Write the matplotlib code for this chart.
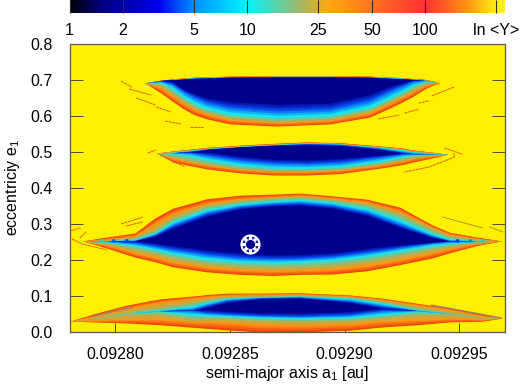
import numpy as np
import matplotlib
matplotlib.use("Agg")
import matplotlib.pyplot as plt
from matplotlib.colors import LinearSegmentedColormap, LogNorm, to_rgb
from matplotlib.path import Path

plt.rcParams['font.family'] = ['Liberation Sans', 'DejaVu Sans']
plt.rcParams['mathtext.default'] = 'regular'

# ---------- data ----------
xticks = [0.09280, 0.09285, 0.09290, 0.09295]
xticklabels = ['0.09280', '0.09285', '0.09290', '0.09295']
yticks = [0.0, 0.1, 0.2, 0.3, 0.4, 0.5, 0.6, 0.7, 0.8]
cbar_ticks = [1, 2, 5, 10, 25, 50, 100, 250]
cbar_labels = ['1', '2', '5', '10', '25', '50', '100', 'ln <Y>']
cbar_stop_values = [1, 1.48, 3.2, 5, 10, 19.7, 29, 52, 100, 178, 250, 280]
cbar_stop_colors = ['#000000', '#00007a', '#0000f0', '#0090ff', '#00f4ff', '#a0b868',
                    '#ffa810', '#ff7020', '#ff3030', '#ff9a14', '#ffee10', '#ffee30']

# colour levels, outermost to innermost
level_names = ['red', 'orange', 'tan', 'cyan', 'blue', 'navy']
level_colors = ['#f0440f', '#fd9610', '#9cb868', '#14e6f0', '#0848f0', '#00008c']

a_top = [0.0928129, 0.0928199, 0.0928247, 0.0928299, 0.0928347, 0.0928399, 0.0928499, 0.0928704,
         0.0928935, 0.0929110, 0.0929197, 0.0929249, 0.0929297, 0.0929349, 0.0929397, 0.0929414]
top_upper = {
    'red':    [.692, .700, .703, .706, .708, .709, .711, .712, .712, .711, .708, .707, .704, .702, .696, .690],
    'orange': [.692, .699, .702, .705, .707, .708, .710, .711, .711, .710, .707, .706, .703, .701, .695, .690],
    'tan':    [.692, .698, .701, .704, .706, .707, .709, .710, .710, .709, .706, .705, .702, .700, .694, .690],
    'cyan':   [.692, .698, .701, .704, .706, .707, .709, .710, .710, .709, .706, .705, .702, .699, .694, .690],
    'blue':   [.692, .698, .701, .703, .705, .706, .708, .709, .709, .708, .705, .704, .702, .700, .694, .690],
    'navy':   [.692, .700, .700, .702, .704, .705, .707, .708, .708, .707, .704, .703, .701, .702, .694, .690],
}
top_lower = {
    'red':    [.692, .664, .642, .619, .603, .592, .578, .572, .578, .597, .622, .638, .654, .675, .689, .690],
    'orange': [.692, .676, .654, .632, .615, .603, .588, .580, .586, .607, .633, .649, .665, .683, .692, .690],
    'tan':    [.692, .686, .665, .643, .625, .611, .596, .586, .592, .615, .641, .657, .673, .690, .694, .690],
    'cyan':   [.692, .694, .678, .652, .634, .620, .605, .596, .601, .624, .650, .666, .684, .696, .694, .690],
    'blue':   [.692, .697, .690, .668, .652, .638, .624, .614, .619, .644, .670, .684, .697, .700, .694, .690],
    'navy':   [.692, .700, .696, .674, .661, .650, .640, .632, .636, .660, .682, .692, .700, .702, .694, .690],
}

a_mid = [0.0928181, 0.0928251, 0.0928325, 0.0928399, 0.0928543, 0.0928687, 0.0928835,
         0.0928979, 0.0929153, 0.0929253, 0.0929297, 0.0929402, 0.0929450]
mid_upper = {
    'red':    [.497, .503, .508, .513, .519, .524, .528, .526, .517, .511, .506, .498, .494],
    'orange': [.497, .502, .506, .511, .517, .522, .526, .524, .515, .509, .504, .497, .494],
    'tan':    [.497, .501, .505, .510, .516, .521, .525, .523, .514, .508, .503, .496, .494],
    'cyan':   [.497, .498, .504, .509, .515, .520, .524, .522, .513, .506, .500, .495, .494],
    'blue':   [.497, .498, .502, .508, .514, .519, .523, .521, .510, .500, .496, .494, .494],
    'navy':   [.497, .498, .500, .507, .514, .518, .520, .518, .507, .497, .496, .494, .494],
}
mid_lower = {
    'red':    [.497, .472, .462, .453, .442, .436, .436, .440, .455, .465, .472, .486, .494],
    'orange': [.497, .481, .470, .462, .450, .444, .444, .448, .462, .473, .481, .490, .494],
    'tan':    [.497, .487, .477, .468, .455, .449, .448, .452, .467, .479, .486, .493, .494],
    'cyan':   [.497, .497, .490, .479, .464, .456, .455, .459, .474, .487, .493, .494, .494],
    'blue':   [.497, .498, .499, .492, .478, .470, .468, .472, .486, .495, .495, .494, .494],
    'navy':   [.497, .498, .500, .500, .488, .480, .478, .482, .492, .497, .496, .494, .494],
}

a_main = [0.0927859, 0.0927963, 0.0928085, 0.0928173, 0.0928251, 0.0928399, 0.0928543, 0.0928687,
          0.0928805, 0.0928948, 0.0929097, 0.0929240, 0.0929384, 0.0929458, 0.0929576, 0.0929685]
main_upper = {
    'red':    [.253, .264, .275, .317, .344, .370, .380, .383, .386, .378, .369, .347, .297, .277, .264, .253],
    'orange': [.253, .258, .268, .303, .331, .359, .371, .376, .380, .373, .362, .337, .291, .272, .260, .253],
    'tan':    [.253, .254, .262, .283, .317, .350, .364, .372, .375, .368, .355, .327, .285, .266, .256, .253],
    'cyan':   [.253, .253, .257, .275, .306, .340, .356, .364, .368, .360, .343, .312, .272, .258, .253, .253],
    'blue':   [.253, .253, .254, .270, .296, .330, .348, .356, .359, .351, .332, .298, .266, .254, .253, .253],
    'navy':   [.253, .253, .253, .266, .288, .322, .342, .350, .352, .344, .324, .291, .262, .253, .253, .253],
}
main_lower = {
    'red':    [.253, .233, .208, .195, .181, .167, .160, .157, .160, .161, .170, .187, .206, .220, .240, .253],
    'orange': [.253, .240, .218, .206, .192, .178, .171, .168, .170, .173, .183, .199, .218, .230, .245, .253],
    'tan':    [.253, .247, .230, .219, .206, .190, .183, .180, .181, .186, .197, .212, .230, .238, .250, .253],
    'cyan':   [.253, .250, .240, .229, .218, .203, .195, .193, .195, .200, .211, .226, .241, .246, .252, .253],
    'blue':   [.253, .253, .248, .239, .230, .216, .207, .204, .205, .210, .222, .235, .248, .252, .253, .253],
    'navy':   [.253, .253, .253, .247, .240, .228, .219, .214, .215, .220, .232, .242, .250, .253, .253, .253],
}

a_low = [0.0927802, 0.0927902, 0.0928051, 0.0928194, 0.0928338, 0.0928399, 0.0928486, 0.0928630,
         0.0928805, 0.0929022, 0.0929166, 0.0929314, 0.0929458, 0.0929602, 0.0929689]
low_upper = {
    'red':    [.030, .050, .075, .092, .100, .104, .108, .108, .109, .103, .094, .080, .067, .050, .039],
    'orange': [.030, .044, .068, .084, .095, .099, .103, .105, .106, .100, .090, .076, .063, .045, .039],
    'tan':    [.030, .038, .054, .068, .082, .090, .097, .100, .102, .097, .086, .068, .054, .040, .039],
    'cyan':   [.030, .038, .052, .060, .072, .082, .093, .097, .099, .094, .080, .062, .052, .040, .039],
    'blue':   [.030, .038, .052, .059, .063, .074, .088, .095, .097, .086, .072, .060, .052, .040, .039],
    'navy':   [.030, .038, .052, .059, .061, .068, .082, .092, .094, .082, .066, .060, .052, .040, .039],
}
low_lower = {
    'red':    [.030, .028, .025, .020, .013, .010, .006, .000, .000, .005, .014, .020, .028, .030, .039],
    'orange': [.030, .031, .034, .034, .026, .026, .024, .018, .016, .020, .028, .032, .036, .034, .039],
    'tan':    [.030, .038, .050, .050, .036, .037, .038, .032, .030, .032, .040, .048, .050, .040, .039],
    'cyan':   [.030, .038, .052, .058, .048, .046, .044, .040, .038, .040, .048, .058, .052, .040, .039],
    'blue':   [.030, .038, .052, .059, .060, .054, .050, .046, .044, .048, .060, .060, .052, .040, .039],
    'navy':   [.030, .038, .052, .059, .061, .062, .058, .053, .052, .057, .066, .060, .052, .040, .039],
}

# stray resonance arcs: (a values, e values)
arcs_red = [
    ([0.0927769, 0.0927848], [.275, .289]),
    ([0.0927845, 0.0927872], [.261, .278]),
    ([0.0927810, 0.0927859, 0.0927963], [.258, .244, .228]),
    ([0.0928120, 0.0928045], [.306, .294]),
    ([0.0928025, 0.0928120], [.300, .319]),
    ([0.0928025, 0.0928073], [.697, .680]),
    ([0.0928060, 0.0928156], [.675, .658]),
    ([0.0928091, 0.0928174], [.650, .631]),
    ([0.0928178, 0.0928243], [.625, .611]),
    ([0.0928217, 0.0928287], [.586, .578]),
    ([0.0928326, 0.0928383], [.569, .569]),
    ([0.0929380, 0.0929480], [.656, .681]),
    ([0.0929323, 0.0929367], [.636, .642]),
    ([0.0929262, 0.0929323], [.608, .619]),
    ([0.0929148, 0.0929240], [.592, .603]),
    ([0.0928142, 0.0928177], [.497, .506]),
    ([0.0928195, 0.0928304], [.492, .458]),
    ([0.0929436, 0.0929514], [.511, .494]),
    ([0.0929475, 0.0929480, 0.0929367, 0.0929258], [.497, .486, .458, .444]),
]
arcs_olive = [
    ([0.0929429, 0.0929603], [.319, .289]),
    ([0.0929633, 0.0929690], [.292, .278]),
]
arcs_grey = [
    ([0.0927902, 0.0928077], [.044, .069]),
    ([0.0929380, 0.0929685], [.075, .039]),
]
blobs_a = [0.0927941, 0.0927993, 0.0928050, 0.0929493, 0.0929549, 0.0929602]
blobs_e = [.253, .253, .253, .253, .253, .253]
blobs_c = ['#20d8c8', '#0a60f0', '#0a40e8', '#0a40e8', '#0a80f0', '#20c8d8']
star_a = [0.0928587]
star_e = [0.244]

# ---------- figure ----------
W, H = 520, 385
fig = plt.figure(figsize=(W / 100, H / 100), dpi=100)
ax = fig.add_axes([69.5 / W, (H - 332) / H, 435.5 / W, 288 / H])
ax.set_facecolor('#ffef00')
ax.set_xlim(0.09278, 0.09297)
ax.set_ylim(0, 0.8)


def blend(c1, c2, t):
    return tuple((1 - t) * p + t * q for p, q in zip(to_rgb(c1), to_rgb(c2)))


def draw_lobe(a, upper, lower, steps=3):
    for i, name in enumerate(level_names):
        u0 = np.array(upper[name])
        l0 = np.array(lower[name])
        if i == len(level_names) - 1:
            ax.fill_between(a, l0, u0, color=level_colors[i], lw=0, zorder=2 + i)
            continue
        nxt = level_names[i + 1]
        u1 = np.array(upper[nxt])
        l1 = np.array(lower[nxt])
        for s in range(steps):
            t = s / steps
            ax.fill_between(a, l0 + (l1 - l0) * t, u0 + (u1 - u0) * t,
                            color=blend(level_colors[i], level_colors[i + 1], t),
                            lw=0, zorder=2 + i + t)


draw_lobe(a_top, top_upper, top_lower)
draw_lobe(a_mid, mid_upper, mid_lower)
draw_lobe(a_main, main_upper, main_lower)
draw_lobe(a_low, low_upper, low_lower)

for xs, ys in arcs_red:
    ax.plot(xs, ys, color='#e8600f', lw=0.7, ls=(0, (3, 0.6)), zorder=10)
for xs, ys in arcs_olive:
    ax.plot(xs, ys, color='#b09a20', lw=0.7, zorder=10)
for xs, ys in arcs_grey:
    ax.plot(xs, ys, color='#8a8070', lw=0.8, zorder=10)
ax.scatter(blobs_a, blobs_e, s=7, c=blobs_c, marker='o', linewidths=0, zorder=11)

# white ring with eight dark triangles and a dark centre
ax.plot(star_a, star_e, 'o', ms=14.5, mfc='white', mec='none', zorder=12)
ax.plot(star_a, star_e, 'o', ms=6.5, mfc='#00008c', mec='none', zorder=13)
verts, codes = [], []
for ang in np.deg2rad(np.arange(0, 360, 45) + 22.5):
    d = np.array([np.cos(ang), np.sin(ang)])
    n = np.array([-d[1], d[0]])
    verts += [list(d * 1.0 + n * 0.22), list(d * 1.0 - n * 0.22), list(d * 0.62), [0, 0]]
    codes += [Path.MOVETO, Path.LINETO, Path.LINETO, Path.CLOSEPOLY]
ax.plot(star_a, star_e, linestyle='none', marker=Path(verts, codes), ms=11.5,
        mfc='#0010a0', mec='none', zorder=13)

ink = '#4d4a20'
for sp in ax.spines.values():
    sp.set_color('#5a5a40')
    sp.set_linewidth(0.9)
    sp.set_zorder(20)
ax.set_xticks(xticks)
ax.set_xticklabels(xticklabels)
ax.set_yticks(yticks)
ax.set_yticklabels([f'{v:.1f}' for v in yticks])
ax.tick_params(axis='x', direction='in', length=6.2, width=0.7, color=ink, labelsize=11.5,
               pad=11, top=False, zorder=20)
ax.tick_params(axis='y', direction='in', length=9.4, width=0.7, color=ink, labelsize=11.5,
               pad=12, right=True)
ax.set_xlabel('semi-major axis a$_1$ [au]', fontsize=11.5, labelpad=1.5)
ax.set_ylabel('eccentriciy e$_1$', fontsize=11.5, labelpad=6)

# colour bar
cax = fig.add_axes([69.5 / W, (H - 13) / H, 435.5 / W, 13 / H])
cmap_pos = (np.log10(cbar_stop_values) - np.log10(cbar_stop_values[0])) / (
    np.log10(cbar_stop_values[-1]) - np.log10(cbar_stop_values[0]))
cmap = LinearSegmentedColormap.from_list('y', list(zip(cmap_pos, cbar_stop_colors)), N=512)
edges = np.geomspace(cbar_stop_values[0], cbar_stop_values[-1], 437)
mids = np.sqrt(edges[:-1] * edges[1:])
cax.pcolormesh(edges, [0, 1], mids[None, :], cmap=cmap,
               norm=LogNorm(cbar_stop_values[0], cbar_stop_values[-1]), rasterized=True)
cax.set_xscale('log')
cax.set_xlim(cbar_stop_values[0], cbar_stop_values[-1])
cax.set_ylim(0, 1)
cax.set_yticks([])
cax.set_xticks(cbar_ticks)
cax.set_xticklabels(cbar_labels)
cax.minorticks_off()
cax.tick_params(axis='x', which='major', direction='in', length=9.4, width=0.8, color='#303020',
                labelsize=11.5, pad=7)
for sp in cax.spines.values():
    sp.set_visible(False)

fig.savefig('out.png', dpi=100)
